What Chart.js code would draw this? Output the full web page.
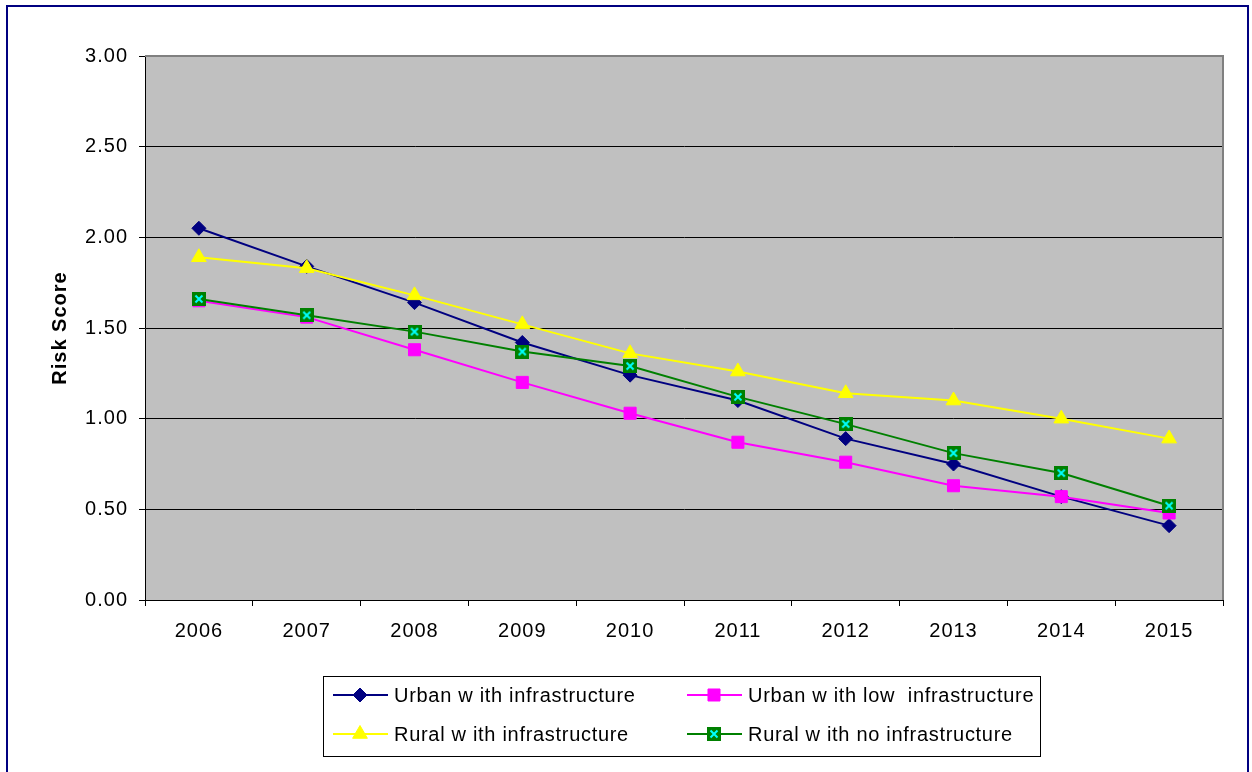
<!DOCTYPE html>
<html>
<head>
<meta charset="utf-8">
<script src="https://cdn.jsdelivr.net/npm/chart.js@4/dist/chart.umd.min.js"></script>
<style>
  html, body { margin: 0; padding: 0; background: #fff; }
  canvas { display: block; }
</style>
</head>
<body>
<canvas id="chart" width="1252" height="772"></canvas>
<script>
const years = ['2006', '2007', '2008', '2009', '2010', '2011', '2012', '2013', '2014', '2015'];

const urbanInfra = [2.05, 1.84, 1.64, 1.42, 1.24, 1.10, 0.89, 0.75, 0.57, 0.41];
const urbanLowInfra = [1.65, 1.56, 1.38, 1.20, 1.03, 0.87, 0.76, 0.63, 0.57, 0.48];
const ruralInfra = [1.89, 1.83, 1.68, 1.52, 1.36, 1.26, 1.14, 1.10, 1.00, 0.89];
const ruralNoInfra = [1.66, 1.57, 1.48, 1.37, 1.29, 1.12, 0.97, 0.81, 0.70, 0.52];

const seriesNames = [
  'Urban w ith infrastructure',
  'Urban w ith low  infrastructure',
  'Rural w ith infrastructure',
  'Rural w ith no infrastructure'
];

const FONT = "'Liberation Sans', Arial, sans-serif";

// green square with a cyan cross
function crossMarker() {
  const c = document.createElement('canvas');
  c.width = 14; c.height = 14;
  const g = c.getContext('2d');
  g.fillStyle = '#008000';
  g.fillRect(0, 0, 14, 14);
  g.strokeStyle = '#00ffff';
  g.lineWidth = 2;
  g.beginPath();
  g.moveTo(3.5, 3.5); g.lineTo(10.5, 10.5);
  g.moveTo(10.5, 3.5); g.lineTo(3.5, 10.5);
  g.stroke();
  return c;
}
const crossImg = crossMarker();

const frame = {
  id: 'frame',
  beforeLayout(chart) {
    // the labels are set a little wide
    chart.ctx.letterSpacing = '1px';
  },
  beforeDraw(chart) {
    const { ctx, chartArea: a } = chart;
    ctx.save();
    ctx.fillStyle = '#c0c0c0';
    ctx.fillRect(a.left, a.top, a.right - a.left, a.bottom - a.top);
    ctx.restore();
  },
  afterDraw(chart) {
    const { ctx, chartArea: a } = chart;
    ctx.save();
    // grey top/right edge of the plot
    ctx.strokeStyle = '#808080';
    ctx.lineWidth = 2;
    ctx.beginPath();
    ctx.moveTo(a.left, a.top);
    ctx.lineTo(a.right, a.top);
    ctx.lineTo(a.right, a.bottom);
    ctx.stroke();
    // outer navy border
    ctx.strokeStyle = '#000080';
    ctx.lineWidth = 2;
    ctx.strokeRect(7, 6, 1241, 780);

    // legend box, two columns by two rows
    ctx.strokeStyle = '#000';
    ctx.lineWidth = 1;
    ctx.strokeRect(323.5, 676.5, 717, 80);
    const cols = [333, 687];
    const rows = [695, 734];
    ctx.font = '20px ' + FONT;
    ctx.letterSpacing = '0.7px';
    ctx.textBaseline = 'middle';
    chart.data.datasets.forEach((ds, i) => {
      const x = cols[i % 2], y = rows[Math.floor(i / 2)];
      ctx.strokeStyle = ds.borderColor;
      ctx.lineWidth = 2;
      ctx.beginPath();
      ctx.moveTo(x, y);
      ctx.lineTo(x + 55, y);
      ctx.stroke();
      ctx.fillStyle = ds.pointBackgroundColor;
      ctx.lineWidth = 1;
      Chart.helpers.drawPoint(ctx, {
        pointStyle: ds.pointStyle,
        radius: ds.pointRadius,
        rotation: 0,
        borderWidth: 1
      }, x + 27, y);
      ctx.fillStyle = '#000';
      ctx.fillText(ds.label, x + 61, y + 1);
    });
    ctx.restore();
  }
};

new Chart(document.getElementById('chart'), {
  type: 'line',
  data: {
    labels: years,
    datasets: [
      { label: seriesNames[0], data: urbanInfra, borderColor: '#000080',
        pointStyle: 'rectRot', pointRadius: 7 },
      { label: seriesNames[1], data: urbanLowInfra, borderColor: '#ff00ff',
        pointStyle: 'rect', pointRadius: 8.5 },
      { label: seriesNames[2], data: ruralInfra, borderColor: '#ffff00',
        pointStyle: 'triangle', pointRadius: 8.5 },
      { label: seriesNames[3], data: ruralNoInfra, borderColor: '#008000',
        pointStyle: crossImg, pointRadius: 7 }
    ].map((d, i) => Object.assign(d, {
      // later series sit on top
      order: 3 - i,
      backgroundColor: d.borderColor,
      borderWidth: 2,
      tension: 0,
      fill: false,
      pointBorderWidth: 1,
      pointBorderColor: d.borderColor,
      pointBackgroundColor: d.borderColor
    }))
  },
  options: {
    responsive: false,
    animation: false,
    events: [],
    layout: { padding: { left: 0, right: 29, top: 56, bottom: 122 } },
    plugins: {
      legend: { display: false },
      tooltip: { enabled: false }
    },
    scales: {
      x: {
        offset: true,
        afterFit(s) { s.height = 50; },
        grid: { offset: true, drawOnChartArea: false, tickLength: 6, tickColor: '#000', lineWidth: 1 },
        border: { color: '#000', width: 1 },
        ticks: { color: '#000', font: { family: FONT, size: 20 }, padding: 13, maxRotation: 0 }
      },
      y: {
        min: 0,
        max: 3,
        afterFit(s) { s.width = 145; },
        grid: { color: '#000', lineWidth: 1, tickLength: 6, tickColor: '#000' },
        border: { color: '#000', width: 1 },
        ticks: {
          stepSize: 0.5,
          color: '#000',
          padding: 11,
          font: { family: FONT, size: 20 },
          callback: v => v.toFixed(2)
        },
        title: {
          display: true,
          text: 'Risk Score',
          color: '#000',
          font: { family: FONT, size: 20, weight: 'bold' },
          padding: { top: 48, bottom: 0 }
        }
      }
    }
  },
  plugins: [frame]
});
</script>
</body>
</html>
